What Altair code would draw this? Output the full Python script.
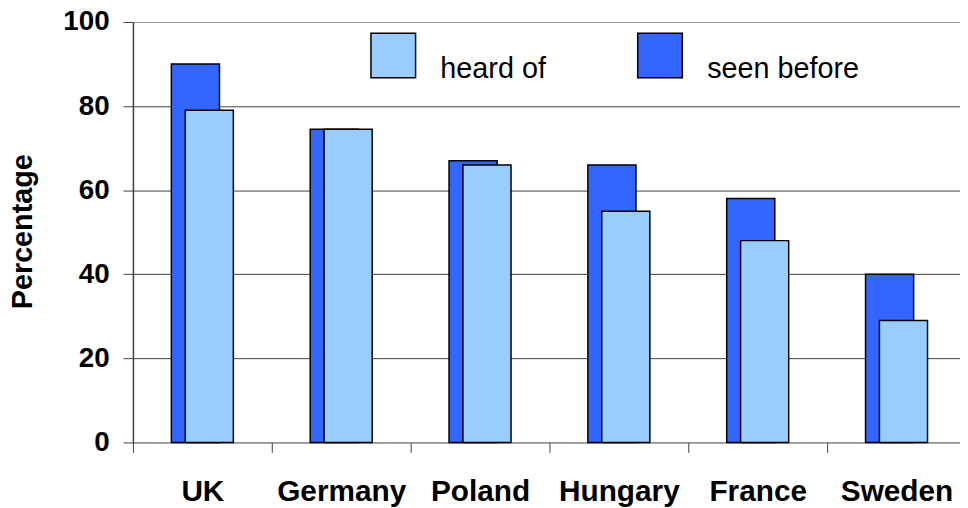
import altair as alt
import pandas as pd

countries = ["UK", "Germany", "Poland", "Hungary", "France", "Sweden"]
seen_before = [90, 74.5, 67, 66, 58, 40]
heard_of = [79, 74.5, 66, 55, 48, 29]
series_names = ["heard of", "seen before"]
series_colors = ["#99CCFF", "#3366FF"]
y_ticks = [0, 20, 40, 60, 80, 100]

rows = []
for c, s, h in zip(countries, seen_before, heard_of):
    rows.append({"country": c, "series": "seen before", "value": s})
    rows.append({"country": c, "series": "heard of", "value": h})
df = pd.DataFrame(rows)

FONT = "Liberation Sans"

x_enc = alt.X(
    "country:N",
    sort=countries,
    scale=alt.Scale(domain=countries, range=[0, 840], paddingInner=0, paddingOuter=0),
    axis=alt.Axis(
        title=None, domain=False, grid=False, tickBand="extent",
        tickSize=10, tickColor="#404040", tickWidth=1,
        labelFont=FONT, labelFontSize=30, labelFontWeight="bold", labelColor="black",
        labelBaseline="alphabetic", labelPadding=49, labelAngle=0, labelOverlap=False,
    ),
)

y_enc = alt.Y(
    "value:Q",
    scale=alt.Scale(domain=[0, 100], nice=False),
    axis=alt.Axis(
        values=y_ticks, title="Percentage",
        titleFont=FONT, titleFontSize=29, titleFontWeight="bold", titleColor="black",
        titleAngle=270, titleX=-102, titleY=211, titleBaseline="alphabetic", titleAlign="center",
        labelFont=FONT, labelFontSize=28, labelFontWeight="bold", labelColor="black",
        labelPadding=14, tickSize=10, tickColor="#404040", tickWidth=1,
        domainColor="#404040", domainWidth=1.5,
        gridColor={"condition": {"test": "datum.value === 100", "value": "#999999"}, "value": "#404040"},
        gridWidth=1,
    ),
)

color_enc = alt.Color(
    "series:N",
    scale=alt.Scale(domain=series_names, range=series_colors),
    legend=alt.Legend(
        title=None, orient="none", legendX=239, legendY=10, direction="horizontal",
        symbolType="square", symbolSize=2025, symbolStrokeColor="black", symbolStrokeWidth=1.5,
        symbolOpacity=1,
        labelFont=FONT, labelFontSize=29, labelColor="black", labelOffset=24,
        labelBaseline="top", labelLimit=300, columnPadding=89, padding=0,
    ),
)

base = alt.Chart(df).encode(x=x_enc, y=y_enc, color=color_enc)

dark = base.transform_filter(alt.datum.series == "seen before").mark_bar(
    size=48.5, xOffset=-7, stroke="black", strokeWidth=1.5, opacity=1
)
light = base.transform_filter(alt.datum.series == "heard of").mark_bar(
    size=48.5, xOffset=7, stroke="black", strokeWidth=1.5, opacity=1
)

chart = (
    alt.layer(dark, light)
    .properties(
        width=826, height=424,
        autosize=alt.AutoSizeParams(type="none"),
        padding={"left": 126, "top": 12, "right": 8, "bottom": 64},
        background="white",
    )
    .configure_view(stroke=None)
)

chart.save("out.html", embed_options={"renderer": "svg", "actions": False})
